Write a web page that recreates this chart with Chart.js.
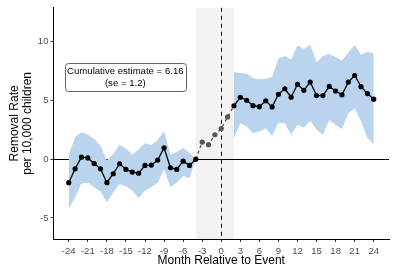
<!DOCTYPE html>
<html>
<head>
<meta charset="utf-8">
<script src="https://cdn.jsdelivr.net/npm/chart.js@4"></script>
<style>
  body { margin: 0; background: #fff; }
  canvas { display: block; }
</style>
</head>
<body>
<canvas id="eventChart" width="393" height="269"></canvas>
<script>
// months relative to event
const months = [-24,-23,-22,-21,-20,-19,-18,-17,-16,-15,-14,-13,-12,-11,-10,-9,-8,-7,-6,-5,-4,
  -3,-2,-1,0,1,
  2,3,4,5,6,7,8,9,10,11,12,13,14,15,16,17,18,19,20,21,22,23,24]

const estimate = [-2.0,-0.82,0.17,0.11,-0.37,-0.82,-2.0,-1.24,-0.39,-0.87,-1.1,-1.2,-0.53,-0.5,-0.08,0.97,-0.73,-0.87,-0.17,-0.53,0,
  1.46,1.24,2.08,2.61,3.6,
  4.55,5.27,5.02,4.56,4.47,4.97,4.45,5.53,6.0,5.28,6.38,5.87,6.57,5.42,5.42,6.2,5.81,5.48,6.57,7.13,6.18,5.59,5.11]

// confidence band (null inside the transition window)
const ciUpper = [0.4,1.9,2.3,2.1,1.75,1.15,-0.1,0.45,1.24,0.9,0.39,0.82,1.37,1.18,1.66,2.4,0.39,0.62,0.95,0.53,0,
  null,null,null,null,null,
  7.4,7.35,7.3,6.9,6.8,6.85,7.0,8.6,8.8,8.5,9.7,9.4,9.75,8.26,8.8,8.96,8.7,8.4,9.1,9.75,8.9,9.16,9.0]

const ciLower = [-4.24,-3.26,-2.08,-2.0,-2.4,-2.75,-3.68,-2.84,-2.13,-2.3,-2.7,-3.3,-2.7,-2.4,-2.0,-0.87,-2.36,-2.0,-1.43,-1.63,0,
  null,null,null,null,null,
  1.8,3.06,2.78,2.22,2.36,2.64,2.0,3.1,3.06,2.08,2.92,2.7,3.26,2.5,2.08,3.34,2.92,2.58,3.9,4.32,3.2,1.8,1.29]

const xTicks = [-24,-21,-18,-15,-12,-9,-6,-3,0,3,6,9,12,15,18,21,24]
const yTicks = [-5,0,5,10]

const shadeFrom = -4
const shadeTo = 2
const cumulativeText = ['Cumulative estimate = 6.16', '(se = 1.2)']
const labelAt = {x: -15.1, y: 7.0}

const pick = (arr, lo, hi) => months
  .map((m, i) => ({x: m, y: arr[i]}))
  .filter(p => p.x >= lo && p.x <= hi)

const FONT = "'Liberation Sans', Arial, sans-serif"

const extras = {
  id: 'extras',
  beforeDatasetsDraw(chart) {
    const {ctx, chartArea: a, scales: {x, y}} = chart
    ctx.save()
    // transition window
    const x0 = x.getPixelForValue(shadeFrom)
    const x1 = x.getPixelForValue(shadeTo)
    ctx.fillStyle = '#f2f2f2'
    ctx.fillRect(x0, a.top, x1 - x0, a.bottom - a.top)
    // zero line
    const yz = Math.round(y.getPixelForValue(0)) + 0.5
    ctx.strokeStyle = '#000'
    ctx.lineWidth = 1
    ctx.beginPath()
    ctx.moveTo(a.left, yz)
    ctx.lineTo(a.right, yz)
    ctx.stroke()
    // event line
    const xe = Math.round(x.getPixelForValue(0)) + 0.5
    ctx.setLineDash([4, 4])
    ctx.beginPath()
    ctx.moveTo(xe, a.top)
    ctx.lineTo(xe, a.bottom)
    ctx.stroke()
    ctx.restore()
  },
  afterDatasetsDraw(chart) {
    const {ctx, scales: {x, y}} = chart
    const cx = x.getPixelForValue(labelAt.x)
    const cy = y.getPixelForValue(labelAt.y)
    const w = 121, h = 28
    ctx.save()
    ctx.fillStyle = '#fff'
    ctx.strokeStyle = '#666'
    ctx.lineWidth = 1
    ctx.beginPath()
    ctx.roundRect(Math.round(cx - w / 2) + 0.5, Math.round(cy - h / 2) + 0.5, w, h, 3)
    ctx.fill()
    ctx.stroke()
    ctx.fillStyle = '#000'
    ctx.font = '9.6px ' + FONT
    ctx.textAlign = 'center'
    ctx.textBaseline = 'middle'
    ctx.fillText(cumulativeText[0], cx, cy - 6)
    ctx.fillText(cumulativeText[1], cx, cy + 6.5)
    ctx.restore()
  }
}

const lineStyle = {
  borderColor: '#000',
  backgroundColor: '#000',
  borderWidth: 1.3,
  pointRadius: 2.6,
  pointBorderWidth: 0,
  fill: false,
  tension: 0
}

const chart = new Chart(document.getElementById('eventChart'), {
  type: 'line',
  data: {
    datasets: [
      {...lineStyle, label: 'pre', data: pick(estimate, -24, -4)},
      {...lineStyle, label: 'post', data: pick(estimate, 2, 24)},
      {
        ...lineStyle, label: 'transition', data: pick(estimate, -4, 2),
        borderColor: '#555', backgroundColor: '#555', borderDash: [3, 3],
        pointRadius: ctx => (ctx.dataIndex === 0 || ctx.dataIndex === 6) ? 0 : 2.6
      },
      {label: 'preUp', data: pick(ciUpper, -24, -4), borderWidth: 0, pointRadius: 0,
        backgroundColor: 'rgb(187,212,238)', fill: '+1'},
      {label: 'preLo', data: pick(ciLower, -24, -4), borderWidth: 0, pointRadius: 0, fill: false},
      {label: 'postUp', data: pick(ciUpper, 2, 24), borderWidth: 0, pointRadius: 0,
        backgroundColor: 'rgb(187,212,238)', fill: '+1'},
      {label: 'postLo', data: pick(ciLower, 2, 24), borderWidth: 0, pointRadius: 0, fill: false}
    ]
  },
  options: {
    responsive: false,
    animation: false,
    devicePixelRatio: 1,
    layout: {padding: {top: 5, right: 3, left: 0, bottom: 0}},
    plugins: {legend: {display: false}, tooltip: {enabled: false}},
    scales: {
      x: {
        type: 'linear',
        min: -26.4,
        max: 26.4,
        afterBuildTicks: s => { s.ticks = xTicks.map(v => ({value: v})) },
        afterFit: s => { s.height = 30 },
        border: {display: true, color: '#000', width: 1},
        grid: {drawOnChartArea: false, drawTicks: true, tickLength: 3, color: '#333'},
        ticks: {color: '#4d4d4d', font: {family: FONT, size: 9.6}, padding: 4, maxRotation: 0, autoSkip: false},
        title: {display: true, text: 'Month Relative to Event', color: '#000',
          font: {family: FONT, size: 12}, padding: {top: 0, bottom: 1.5}}
      },
      y: {
        min: -6.8,
        max: 12.9,
        afterBuildTicks: s => { s.ticks = yTicks.map(v => ({value: v})) },
        afterFit: s => { s.width = 53.5 },
        border: {display: true, color: '#000', width: 1},
        grid: {drawOnChartArea: false, drawTicks: true, tickLength: 3, color: '#333'},
        ticks: {color: '#4d4d4d', font: {family: FONT, size: 9.6}, padding: 2},
        title: {display: true, text: ['Removal Rate', 'per 10,000 children'], color: '#000',
          font: {family: FONT, size: 12, lineHeight: 1.08}, padding: {top: 8.5, bottom: 0}}
      }
    }
  },
  plugins: [extras]
})
</script>
</body>
</html>
